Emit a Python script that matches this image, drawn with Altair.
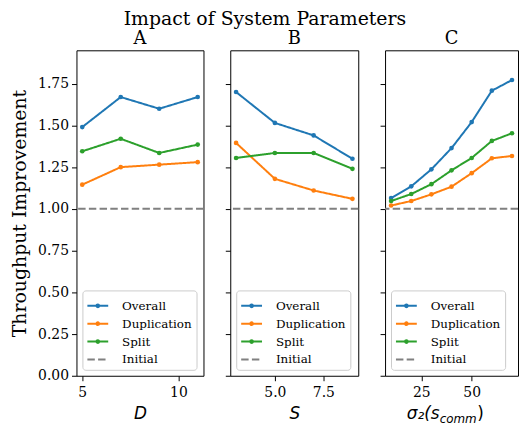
import altair as alt
import pandas as pd

SERIES = ["Overall", "Duplication", "Split", "Initial"]
COLORS = ["#1f77b4", "#ff7f0e", "#2ca02c", "#808080"]
DASHES = [[1, 0], [1, 0], [1, 0], [7.5, 3.3]]

D = [5, 7, 9, 11]
A_overall = [1.49, 1.67, 1.60, 1.67]
A_dup = [1.145, 1.25, 1.265, 1.28]
A_split = [1.345, 1.42, 1.335, 1.385]

S = [3, 5, 7, 9]
B_overall = [1.70, 1.515, 1.44, 1.30]
B_dup = [1.395, 1.18, 1.11, 1.06]
B_split = [1.305, 1.335, 1.335, 1.24]

SIG = [10, 20, 30, 40, 50, 60, 70]
C_overall = [1.065, 1.135, 1.237, 1.364, 1.52, 1.708, 1.772]
C_dup = [1.02, 1.047, 1.087, 1.133, 1.214, 1.303, 1.317]
C_split = [1.047, 1.089, 1.148, 1.231, 1.305, 1.407, 1.453]

INITIAL = 1.0
Y_TICKS = [0, 0.25, 0.5, 0.75, 1.0, 1.25, 1.5, 1.75]

SERIF = "DejaVu Serif"
SANS = "DejaVu Sans"
H = 328

DOT_PATH = "M-1,0H1M-0.13,0A0.13,0.13,0,1,1,0.13,0A0.13,0.13,0,1,1,-0.13,0Z"
SHAPE_EXPR = "datum.value === 'Initial' ? 'stroke' : '" + DOT_PATH + "'"
FILL_EXPR = ("datum.value === 'Overall' ? '" + COLORS[0] + "' : datum.value === 'Duplication' ? '"
             + COLORS[1] + "' : datum.value === 'Split' ? '" + COLORS[2] + "' : 'transparent'")


def frame(xs, series_vals):
    rows = []
    for name, vals in zip(SERIES[:3], series_vals):
        for x, v in zip(xs, vals):
            rows.append({"x": x, "y": v, "series": name})
    return pd.DataFrame(rows)


def panel(xs, vals, xdomain, xticks, xfmt, xtitle, show_y):
    df = frame(xs, vals)
    leg = alt.Legend(title=None, orient="bottom-left",
                     symbolType=alt.ExprRef(SHAPE_EXPR),
                     symbolFillColor=alt.ExprRef(FILL_EXPR),
                     labelFont=SERIF, labelFontSize=12, labelColor="black")
    color = alt.Color("series:N", scale=alt.Scale(domain=SERIES, range=COLORS), legend=leg)
    dash = alt.StrokeDash("series:N", scale=alt.Scale(domain=SERIES, range=DASHES), legend=leg)
    yaxis = alt.Axis(values=Y_TICKS, format=".2f", labels=show_y,
                     title="Throughput Improvement" if show_y else None,
                     grid=False, domain=False, tickColor="black", tickSize=5,
                     labelFont=SERIF, labelFontSize=14, labelColor="black",
                     titleFont=SERIF, titleFontSize=19, titleFontWeight="normal",
                     titleColor="black", titlePadding=8, labelPadding=3)
    xaxis = alt.Axis(values=xticks, format=xfmt, title=xtitle, grid=False, domain=False,
                     tickColor="black", tickSize=5, labelFont=SERIF, labelFontSize=14,
                     labelColor="black", titleFont=SANS, titleFontSize=17,
                     titleFontStyle="italic", titleFontWeight="normal", titleColor="black",
                     titlePadding=6, labelPadding=5, labelFlush=False)
    x = alt.X("x:Q", scale=alt.Scale(domain=xdomain, nice=False, zero=False), axis=xaxis)
    y = alt.Y("y:Q", scale=alt.Scale(domain=[0, 1.95], nice=False), axis=yaxis)

    lines = alt.Chart(df).mark_line(strokeWidth=2, point=alt.OverlayMarkDef(size=22, filled=True)).encode(
        x=x, y=y, color=color, strokeDash=dash)
    init = alt.Chart(pd.DataFrame({"y": [INITIAL], "series": ["Initial"]})).mark_rule(strokeWidth=2).encode(
        y=alt.Y("y:Q"), color=color, strokeDash=dash)
    return [lines, init]


A_layers = panel(D, [A_overall, A_dup, A_split], [4.7, 11.3], [5, 10], "d", "D", True)
B_layers = panel(S, [B_overall, B_dup, B_split], [2.7, 9.3], [5.0, 7.5], ".1f", "S", False)
C_layers = panel(SIG, [C_overall, C_dup, C_split], [7, 73], [25, 50], "d", None, False)

# composed math-style x title for panel C: sigma_2(s_comm)
cx = 55
t1 = alt.Chart(pd.DataFrame({"t": ["σ₂(s"]})).mark_text(
    font=SANS, fontSize=17, fontStyle="italic", align="right", baseline="alphabetic", color="black"
).encode(text="t:N", x=alt.value(cx), y=alt.value(H + 44))
t2 = alt.Chart(pd.DataFrame({"t": ["comm"]})).mark_text(
    font=SANS, fontSize=12, fontStyle="italic", align="left", baseline="alphabetic", color="black"
).encode(text="t:N", x=alt.value(cx), y=alt.value(H + 48))
t3 = alt.Chart(pd.DataFrame({"t": [")"]})).mark_text(
    font=SANS, fontSize=17, align="left", baseline="alphabetic", color="black"
).encode(text="t:N", x=alt.value(cx + 38), y=alt.value(H + 44))


def titled(t):
    return alt.TitleParams(t, font=SERIF, fontSize=18, fontWeight="normal", color="black", offset=2)


pA = alt.layer(*A_layers).properties(width=128, height=H, title=titled("A"))
pB = alt.layer(*B_layers).properties(width=129, height=H, title=titled("B"))
pC = alt.layer(*C_layers, t1, t2, t3).properties(width=134, height=H, title=titled("C"))

chart = alt.hconcat(pA, pB, pC, spacing=19).resolve_scale(
    color="independent", strokeDash="independent", x="independent"
).resolve_legend(color="independent", strokeDash="independent").properties(
    title=alt.TitleParams("Impact of System Parameters", font=SERIF, fontSize=19,
                          fontWeight="normal", color="black", anchor="middle", offset=1),
    padding={"left": 2, "top": 0, "right": 0, "bottom": 0},
).configure_view(stroke="black", strokeWidth=1).configure_legend(
    strokeColor="#cccccc", fillColor="white", cornerRadius=3, padding=4, offset=6,
    symbolSize=441, symbolStrokeWidth=2, rowPadding=-6, labelOffset=13,
)

chart.save("out.html", embed_options={"renderer": "svg", "actions": False})
